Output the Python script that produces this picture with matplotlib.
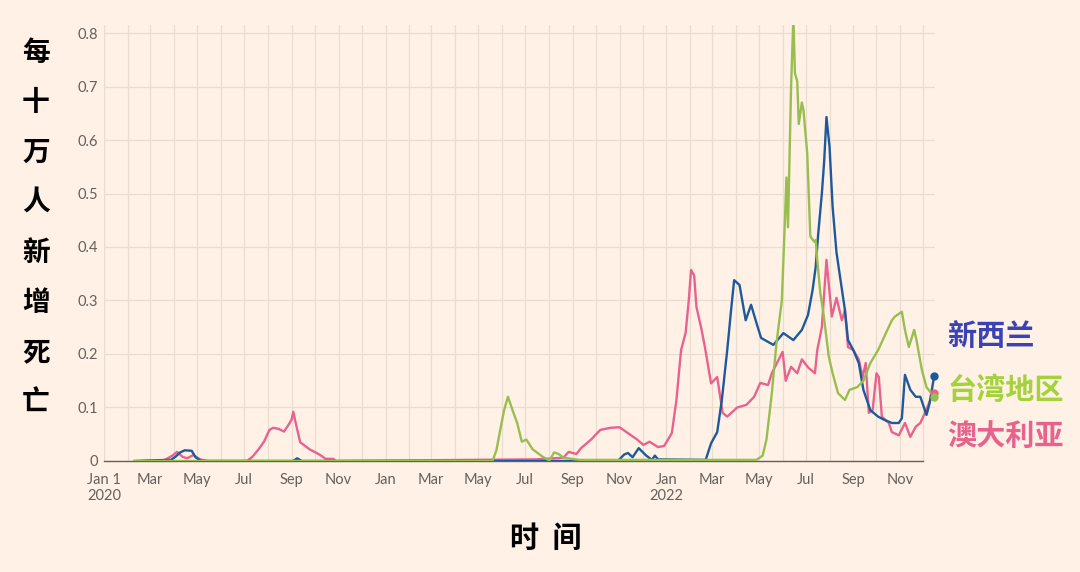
import matplotlib
matplotlib.use("Agg")
import matplotlib.pyplot as plt
import matplotlib.dates as mdates
import pandas as pd

# colours
BG = "#FFF1E5"
C_NZ = "#1D5A9B"
C_TW = "#98BE4F"
C_AU = "#E8628E"

# Australia (pink)
au_dates = ["2020-02-20", "2020-03-20", "2020-03-30", "2020-04-05", "2020-04-12", "2020-04-18",
            "2020-04-26", "2020-05-05", "2020-05-15", "2020-07-05", "2020-07-12", "2020-07-20",
            "2020-07-27", "2020-08-03", "2020-08-08", "2020-08-15", "2020-08-22", "2020-08-28",
            "2020-09-01", "2020-09-03", "2020-09-06", "2020-09-12", "2020-09-24", "2020-10-07",
            "2020-10-15", "2020-10-25", "2020-10-28", "2021-07-15", "2021-08-20", "2021-08-27",
            "2021-09-06", "2021-09-12", "2021-09-25", "2021-10-07", "2021-10-20", "2021-11-01",
            "2021-11-12", "2021-11-24", "2021-12-02", "2021-12-10", "2021-12-21", "2021-12-29",
            "2022-01-08", "2022-01-14", "2022-01-20", "2022-01-26", "2022-01-30", "2022-02-02",
            "2022-02-06", "2022-02-09", "2022-02-15", "2022-02-20", "2022-02-28", "2022-03-08",
            "2022-03-15", "2022-03-21", "2022-04-03", "2022-04-15", "2022-04-25", "2022-05-03",
            "2022-05-13", "2022-05-18", "2022-05-27", "2022-06-01", "2022-06-05", "2022-06-12",
            "2022-06-20", "2022-06-26", "2022-07-04", "2022-07-13", "2022-07-16", "2022-07-22",
            "2022-07-28", "2022-08-04", "2022-08-10", "2022-08-17", "2022-08-21", "2022-08-25",
            "2022-09-01", "2022-09-08", "2022-09-13", "2022-09-17", "2022-09-21", "2022-09-26",
            "2022-10-01", "2022-10-04", "2022-10-08", "2022-10-17", "2022-10-21", "2022-10-30",
            "2022-11-07", "2022-11-14", "2022-11-21", "2022-11-27", "2022-12-03", "2022-12-10",
            "2022-12-15"]
au_vals = [0, 0.002, 0.010, 0.017, 0.008, 0.005,
           0.011, 0.003, 0, 0, 0.008, 0.022,
           0.036, 0.058, 0.062, 0.060, 0.055, 0.068,
           0.078, 0.092, 0.072, 0.035, 0.022, 0.012,
           0.004, 0.004, 0, 0.003, 0.006, 0.017,
           0.013, 0.024, 0.040, 0.058, 0.062, 0.063,
           0.052, 0.040, 0.030, 0.036, 0.026, 0.028,
           0.052, 0.114, 0.207, 0.240, 0.300, 0.357,
           0.347, 0.288, 0.250, 0.213, 0.145, 0.157,
           0.090, 0.083, 0.100, 0.105, 0.120, 0.146,
           0.142, 0.164, 0.190, 0.204, 0.150, 0.176,
           0.164, 0.190, 0.175, 0.164, 0.207, 0.250,
           0.376, 0.270, 0.305, 0.263, 0.282, 0.213,
           0.207, 0.190, 0.157, 0.183, 0.090, 0.095,
           0.164, 0.157, 0.083, 0.071, 0.054, 0.048,
           0.071, 0.045, 0.064, 0.071, 0.090, 0.114,
           0.127]

# New Zealand (blue)
nz_dates = ["2020-02-10", "2020-03-28", "2020-04-03", "2020-04-09", "2020-04-15", "2020-04-24",
            "2020-04-29", "2020-05-06", "2020-09-03", "2020-09-08", "2020-09-14", "2021-10-30",
            "2021-11-07", "2021-11-12", "2021-11-18", "2021-11-26", "2021-12-05", "2021-12-13",
            "2021-12-17", "2021-12-21", "2022-02-21", "2022-02-28", "2022-03-08", "2022-03-14",
            "2022-03-21", "2022-03-26", "2022-03-30", "2022-04-06", "2022-04-14", "2022-04-21",
            "2022-04-28", "2022-05-04", "2022-05-20", "2022-06-02", "2022-06-15", "2022-06-26",
            "2022-07-04", "2022-07-10", "2022-07-14", "2022-07-17", "2022-07-22", "2022-07-25",
            "2022-07-28", "2022-08-01", "2022-08-05", "2022-08-10", "2022-08-21", "2022-08-25",
            "2022-09-01", "2022-09-08", "2022-09-14", "2022-09-23", "2022-10-03", "2022-10-11",
            "2022-10-21", "2022-10-30", "2022-11-03", "2022-11-07", "2022-11-14", "2022-11-21",
            "2022-11-27", "2022-12-05", "2022-12-09", "2022-12-15"]
nz_vals = [0, 0.002, 0.008, 0.016, 0.020, 0.019,
           0.007, 0, 0, 0.005, 0, 0,
           0.012, 0.015, 0.007, 0.024, 0.011, 0.002,
           0.010, 0.003, 0.002, 0.033, 0.054, 0.114,
           0.207, 0.282, 0.338, 0.329, 0.263, 0.292,
           0.258, 0.230, 0.217, 0.239, 0.226, 0.245,
           0.273, 0.320, 0.363, 0.420, 0.500, 0.560,
           0.643, 0.587, 0.475, 0.390, 0.282, 0.226,
           0.207, 0.183, 0.133, 0.095, 0.083, 0.077,
           0.071, 0.071, 0.080, 0.161, 0.133, 0.120,
           0.120, 0.086, 0.108, 0.159]

# Taiwan (green)
tw_dates = ["2020-02-10", "2021-05-20", "2021-05-25", "2021-05-30", "2021-06-04", "2021-06-09",
            "2021-06-15", "2021-06-21", "2021-06-27", "2021-07-03", "2021-07-11", "2021-07-24",
            "2021-08-02", "2021-08-08", "2021-08-14", "2021-08-20", "2021-09-10", "2022-04-28",
            "2022-05-06", "2022-05-11", "2022-05-18", "2022-05-24", "2022-05-31", "2022-06-04",
            "2022-06-06", "2022-06-08", "2022-06-12", "2022-06-15", "2022-06-17", "2022-06-20",
            "2022-06-22", "2022-06-26", "2022-06-28", "2022-07-03", "2022-07-07", "2022-07-12",
            "2022-07-14", "2022-07-16", "2022-07-20", "2022-07-24", "2022-07-31", "2022-08-05",
            "2022-08-12", "2022-08-21", "2022-08-27", "2022-09-06", "2022-09-14", "2022-09-23",
            "2022-10-03", "2022-10-11", "2022-10-21", "2022-10-25", "2022-11-03", "2022-11-07",
            "2022-11-12", "2022-11-19", "2022-11-22", "2022-11-29", "2022-12-05", "2022-12-15"]
tw_vals = [0, 0, 0.020, 0.058, 0.095, 0.120,
           0.095, 0.071, 0.036, 0.040, 0.022, 0.008,
           0.001, 0.016, 0.013, 0.006, 0.002, 0.002,
           0.010, 0.040, 0.127, 0.220, 0.300, 0.450,
           0.530, 0.437, 0.700, 0.830, 0.725, 0.710,
           0.630, 0.670, 0.657, 0.575, 0.420, 0.410,
           0.413, 0.376, 0.314, 0.277, 0.195, 0.164,
           0.127, 0.114, 0.133, 0.138, 0.150, 0.183,
           0.207, 0.232, 0.263, 0.270, 0.279, 0.245,
           0.213, 0.245, 0.226, 0.170, 0.138, 0.120]

y_ticks = [0, 0.1, 0.2, 0.3, 0.4, 0.5, 0.6, 0.7, 0.8]
y_labels = ["0", "0.1", "0.2", "0.3", "0.4", "0.5", "0.6", "0.7", "0.8"]
x_tick_dates = ["2020-01-01", "2020-03-01", "2020-05-01", "2020-07-01", "2020-09-01", "2020-11-01",
                "2021-01-01", "2021-03-01", "2021-05-01", "2021-07-01", "2021-09-01", "2021-11-01",
                "2022-01-01", "2022-03-01", "2022-05-01", "2022-07-01", "2022-09-01", "2022-11-01"]
x_tick_labels = ["Jan 1\n2020", "Mar", "May", "Jul", "Sep", "Nov",
                 "Jan", "Mar", "May", "Jul", "Sep", "Nov",
                 "Jan\n2022", "Mar", "May", "Jul", "Sep", "Nov"]

series_names = ["新西兰", "台湾地区", "澳大利亚"]
label_colors = ["#3A43B3", "#A4D23A", "#E8628E"]

fig = plt.figure(figsize=(10.8, 5.72), dpi=100)
fig.patch.set_facecolor(BG)
ax = fig.add_axes([0.0963, 0.1941, 0.7694, 0.7622])
ax.set_facecolor(BG)

au_d = pd.to_datetime(au_dates)
nz_d = pd.to_datetime(nz_dates)
tw_d = pd.to_datetime(tw_dates)

ax.plot(au_d, au_vals, color=C_AU, lw=1.7, zorder=3)
ax.plot(nz_d, nz_vals, color=C_NZ, lw=1.7, zorder=4)
ax.plot(tw_d, tw_vals, color=C_TW, lw=1.7, zorder=5)

# end dots
ax.plot(nz_d[-1], nz_vals[-1], "o", color=C_NZ, ms=5, zorder=6, clip_on=False)
ax.plot(au_d[-1], au_vals[-1], "o", color=C_AU, ms=5, zorder=6, clip_on=False)
ax.plot(tw_d[-1], tw_vals[-1], "o", color=C_TW, ms=5, zorder=6, clip_on=False)

ax.set_xlim(pd.Timestamp("2020-01-01"), pd.Timestamp("2022-12-16"))
ax.set_ylim(0, 0.815)

ax.set_yticks(y_ticks)
ax.set_yticklabels(y_labels)
ax.set_xticks(pd.to_datetime(x_tick_dates))
ax.set_xticklabels(x_tick_labels)
ax.xaxis.set_minor_locator(mdates.MonthLocator())

ax.tick_params(axis="y", length=0, labelsize=10.5, labelcolor="#66605C", pad=4)
ax.tick_params(axis="x", which="both", length=0, labelsize=10.5, labelcolor="#66605C", pad=9)
for lab in ax.get_xticklabels() + ax.get_yticklabels():
    lab.set_family("Lato")
for lab in ax.get_xticklabels():
    lab.set_linespacing(1.15)

ax.grid(True, which="both", axis="x", color="#EADCCF", lw=0.9)
ax.grid(True, which="major", axis="y", color="#EADCCF", lw=0.9)
ax.set_axisbelow(True)

for s in ["top", "right", "left"]:
    ax.spines[s].set_visible(False)
ax.spines["bottom"].set_color("#66605C")
ax.spines["bottom"].set_linewidth(1.0)
ax.spines["bottom"].set_bounds(mdates.date2num(pd.Timestamp("2020-01-01")),
                               mdates.date2num(pd.Timestamp("2022-12-01")))

# y label as stacked characters
ylab = "每十万人新增死亡"
for i, ch in enumerate(ylab):
    fig.text(36 / 1080, 1 - (53 + 50 * i) / 572, ch, ha="center", va="center",
             fontsize=20, fontweight="bold", family="Noto Sans CJK SC", color="black")

fig.text(546 / 1080, 1 - 538 / 572, "时  间", ha="center", va="center",
         fontsize=21, fontweight="bold", family="Noto Sans CJK SC", color="black")

label_y = [336, 390, 436]
for name, col, yy in zip(series_names, label_colors, label_y):
    fig.text(947 / 1080, 1 - yy / 572, name, ha="left", va="center",
             fontsize=21, fontweight="bold", family="Noto Sans CJK SC", color=col)

fig.savefig("out.png", dpi=100, facecolor=BG)
